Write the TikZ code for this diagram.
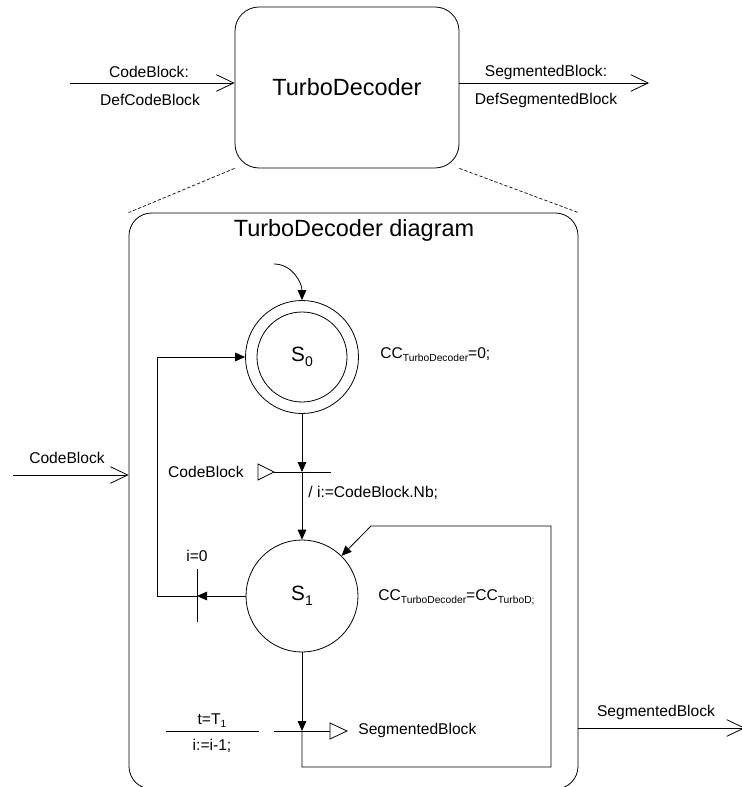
\documentclass[tikz,border=0pt]{standalone}
\usepackage{fontspec}
\setmainfont{Liberation Sans}
\usetikzlibrary{arrows.meta, positioning}

\newcommand{\subtxt}[1]{\raisebox{-2.2pt}{\fontsize{7.7pt}{9pt}\selectfont #1}}
\newcommand{\stname}[1]{\fontsize{15.5pt}{18pt}\selectfont S\raisebox{-3.5pt}{\fontsize{10.5pt}{12pt}\selectfont #1}}

\begin{document}
\begin{tikzpicture}[
    x=0.75pt, y=-0.75pt,
    line width=0.6pt,
    bigtxt/.style={font=\fontsize{17.6pt}{21pt}\selectfont},
    blockbox/.style={draw, rounded corners=18pt, bigtxt},
    state/.style={circle, draw, minimum size=84pt, inner sep=0pt},
    lbl/.style={font=\fontsize{11.7pt}{14pt}\selectfont, inner sep=0pt},
    trans/.style={draw, -{Triangle[length=7.5pt, width=6.5pt]}},
    ext/.style={draw, -{Straight Barb[length=13pt, width=12.5pt]}},
    zoomline/.style={draw, line width=0.5pt, dash pattern=on 2.5pt off 1.5pt}
]
    \useasboundingbox (0,0) rectangle (741,787);

    \node[blockbox, minimum width=168pt, minimum height=120.75pt] (td) at (347,87.5) {TurboDecoder};
    \coordinate (cbin) at (70,83);
    \coordinate (sbout) at (649,83);
    \draw[ext] (cbin) -- (cbin -| td.west);
    \draw[ext] (sbout -| td.east) -- (sbout);
    \node[lbl] (cbtype) at (149,72) {CodeBlock:};
    \node[lbl] (cbdef) at (150,100) {DefCodeBlock};
    \node[lbl] (sbtype) at (546,72) {SegmentedBlock:};
    \node[lbl] (sbdef) at (546,100) {DefSegmentedBlock};

    \node[draw, rounded corners=17pt, minimum width=336.75pt, minimum height=432pt] (diag) at (353.5,501) {};
    \draw[zoomline] (td.south west) -- (diag.north west);
    \draw[zoomline] (td.south east) -- (diag.north east);
    \node[bigtxt] (title) at (354,230) {TurboDecoder diagram};

    \node[state, minimum size=84.75pt] (s0) at (302,357) {};
    \node[state, minimum size=67.5pt] (s0in) at (s0) {\stname{0}};
    \node[state] (s1) at (302,596) {\stname{1}};
    \node[lbl, anchor=west] (s0task) at (380,355) {CC\subtxt{TurboDecoder}=0;};
    \node[lbl, anchor=west] (s1task) at (378,597) {CC\subtxt{TurboDecoder}=CC\subtxt{TurboD;}};

    \coordinate (init) at (274,264);
    \draw[trans] (init) to[out=0, in=90] (s0.north);

    \coordinate (t1) at (302,472);
    \draw[trans] (s0) -- (t1);
    \draw[trans] (t1) -- (s1);
    \draw (t1) ++(-28,0) -- ++(57,0);
    \draw (t1) ++(-28,0) -- ++(-16,-8) -- ++(0,16) -- cycle;
    \node[lbl, anchor=east] (cbsig) at (244,472) {CodeBlock};
    \node[lbl, anchor=west] (cbact) at (308,493) {/ i:=CodeBlock.Nb;};

    \coordinate (t3) at (197,596);
    \coordinate (fb) at (157,596);
    \draw[trans] (s1) -- (t3);
    \draw[trans] (t3) -- (fb) |- (s0);
    \draw (t3) ++(0,-27) -- ++(0,53);
    \node[lbl] (guard) at (197,556) {i=0};

    \coordinate (t2) at (302,731);
    \coordinate (lpa) at (551,767);
    \coordinate (lpb) at (551,526);
    \coordinate (lpc) at (371,526);
    \draw[trans] (s1) -- (t2);
    \draw[trans] (t2) |- (lpa) -- (lpb) -- (lpc) -- (s1);
    \draw (t2) ++(-28,0) -- ++(56,0);
    \draw (t2) ++(28,-8) -- ++(17,8) -- ++(-17,8) -- cycle;
    \node[lbl, anchor=west] (sbsig) at (358,730) {SegmentedBlock};
    \node[lbl] (ttime) at (212,721) {t=T\subtxt{1}};
    \node[lbl] (tdec) at (212,746) {i:=i-1;};
    \draw (166,731) -- (259,731);

    \coordinate (cbext) at (13,475);
    \draw[ext] (cbext) -- (cbext -| diag.west);
    \node[lbl] (cbextl) at (67,458) {CodeBlock};
    \coordinate (sbext) at (745,728);
    \draw[ext] (sbext -| diag.east) -- (sbext);
    \node[lbl] (sbextl) at (656,712) {SegmentedBlock};
\end{tikzpicture}
\end{document}
